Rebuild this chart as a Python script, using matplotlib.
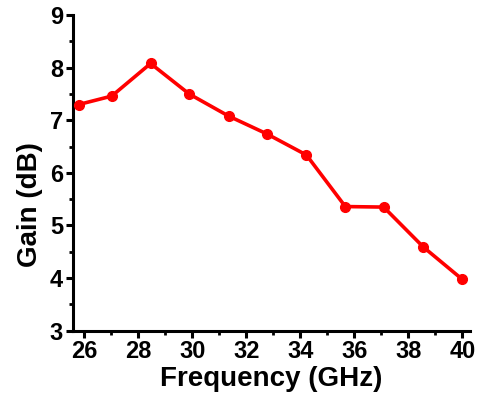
import matplotlib
matplotlib.use('Agg')
import matplotlib.pyplot as plt
from matplotlib.ticker import MultipleLocator

# data
freq_ghz = [25.8, 27.02, 28.46, 29.89, 31.35, 32.77, 34.23, 35.67, 37.09, 38.56, 39.99]
gain_db = [7.30, 7.46, 8.08, 7.50, 7.08, 6.74, 6.34, 5.36, 5.35, 4.59, 3.98]

plt.rcParams['font.family'] = ['Liberation Sans', 'DejaVu Sans']
plt.rcParams['font.weight'] = 'bold'

fig = plt.figure(figsize=(4.79, 3.97), dpi=100)
ax = fig.add_axes([0.152, 0.167, 0.83, 0.795])

ax.plot(freq_ghz, gain_db, color='#ff0000', lw=2.6, marker='o', ms=7,
        clip_on=False, zorder=3)

ax.set_xlim(25.58, 40.3)
ax.set_ylim(3, 9)
ax.xaxis.set_major_locator(MultipleLocator(2))
ax.xaxis.set_minor_locator(MultipleLocator(1))
ax.yaxis.set_major_locator(MultipleLocator(1))
ax.yaxis.set_minor_locator(MultipleLocator(0.5))

for side in ['top', 'right']:
    ax.spines[side].set_visible(False)
for side in ['left', 'bottom']:
    ax.spines[side].set_linewidth(2.2)

ax.tick_params(which='major', direction='out', length=5, width=2.2,
               labelsize=17, pad=2)
ax.tick_params(which='minor', direction='out', length=3, width=2.0)
for lab in ax.get_xticklabels() + ax.get_yticklabels():
    lab.set_fontweight('bold')

ax.set_xlabel('Frequency (GHz)', fontsize=20, fontweight='bold', labelpad=2)
ax.set_ylabel('Gain (dB)', fontsize=20, fontweight='bold')
ax.yaxis.set_label_coords(-0.075, 0.40)

fig.savefig('out.png', dpi=100)
